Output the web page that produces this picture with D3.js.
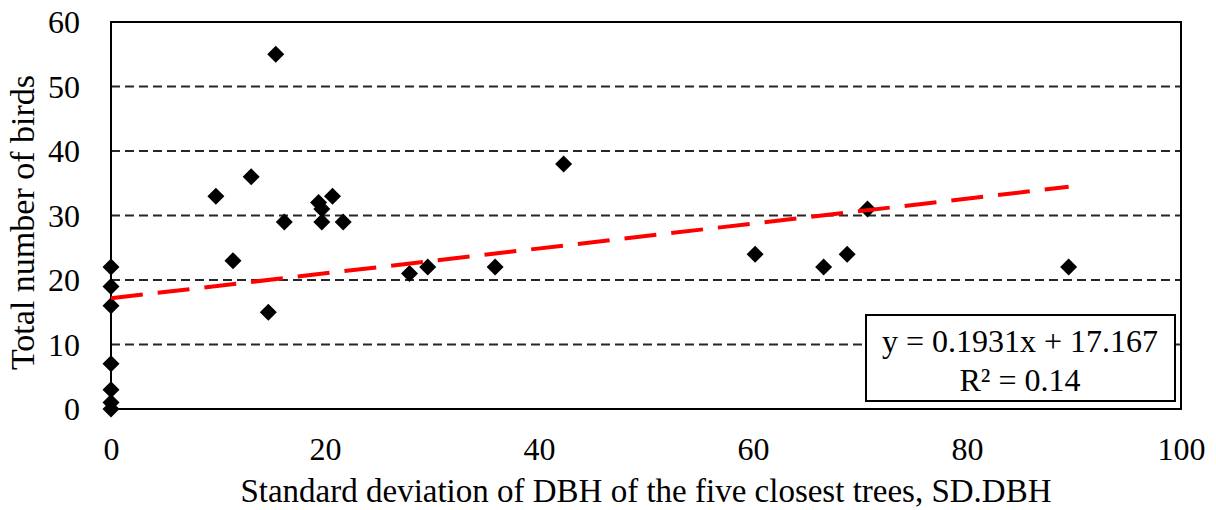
<!DOCTYPE html>
<html>
<head>
<meta charset="utf-8">
<script src="https://cdn.jsdelivr.net/npm/d3@7"></script>
<style>
  html, body { margin: 0; padding: 0; background: #fff; }
  svg { display: block; }
  text { font-family: "Liberation Serif", "Times New Roman", serif; fill: #000; }
</style>
</head>
<body>
<svg id="chart" width="1216" height="510"></svg>
<script>
// ---- data ----
const sdDBH = [0, 0, 0, 0, 0, 0, 0,
  9.8, 11.4, 13.1, 14.7, 15.4, 16.2, 19.4, 19.7, 19.7, 20.7, 21.7,
  27.9, 29.6, 35.9, 42.3, 60.2, 66.6, 68.8, 70.7, 89.5];
const birds = [22, 19, 16, 7, 3, 1, 0,
  33, 23, 36, 15, 55, 29, 32, 31, 29, 33, 29,
  21, 22, 22, 38, 24, 22, 24, 31, 22];
const xTicks = [0, 20, 40, 60, 80, 100];
const yTicks = [0, 10, 20, 30, 40, 50, 60];
const gridValues = [10, 20, 30, 40, 50];
const trendSlope = 0.1931;
const trendIntercept = 17.167;
const eqLines = ["y = 0.1931x + 17.167", "R² = 0.14"];
const xTitle = "Standard deviation of DBH of the five closest trees, SD.DBH";
const yTitle = "Total number of birds";

// ---- layout ----
const L = 111, R = 1181, T = 22, B = 409;
const svg = d3.select("#chart");
const x = d3.scaleLinear().domain([0, 100]).range([L, R]);
const y = d3.scaleLinear().domain([0, 60]).range([B, T]);

// gridlines
svg.append("g").selectAll("line").data(gridValues).join("line")
  .attr("x1", L).attr("x2", R)
  .attr("y1", d => y(d)).attr("y2", d => y(d))
  .attr("stroke", "#262626").attr("stroke-width", 2)
  .attr("stroke-dasharray", "9,5");

// frame
svg.append("rect").attr("x", L).attr("y", T)
  .attr("width", R - L).attr("height", B - T)
  .attr("fill", "none").attr("stroke", "#000").attr("stroke-width", 2);

// axes (labels only)
const xAxis = d3.axisBottom(x).tickValues(xTicks).tickSize(0).tickPadding(0).tickFormat(d3.format("d"));
const gx = svg.append("g").attr("transform", `translate(0,${B})`).call(xAxis);
gx.select(".domain").remove();
gx.selectAll("text").attr("font-size", 32).attr("dy", null).attr("y", 51)
  .style("font-family", "Liberation Serif, serif").attr("fill", "#000");

const yAxis = d3.axisLeft(y).tickValues(yTicks).tickSize(0).tickPadding(0).tickFormat(d3.format("d"));
const gy = svg.append("g").attr("transform", `translate(${L},0)`).call(yAxis);
gy.select(".domain").remove();
gy.selectAll("text").attr("font-size", 32).attr("x", -31).attr("dy", "0.33em")
  .style("font-family", "Liberation Serif, serif").attr("fill", "#000");

// points
const pts = sdDBH.map((v, i) => ({ x: v, y: birds[i] }));
const s = 8.5;
svg.append("g").selectAll("path").data(pts).join("path")
  .attr("d", `M0,${-s}L${s},0L0,${s}L${-s},0Z`)
  .attr("transform", d => `translate(${x(d.x)},${y(d.y)})`)
  .attr("fill", "#000");

// trendline
const xMax = d3.max(sdDBH);
svg.append("line")
  .attr("x1", x(0)).attr("y1", y(trendIntercept))
  .attr("x2", x(xMax)).attr("y2", y(trendIntercept + trendSlope * xMax))
  .attr("stroke", "#ff0000").attr("stroke-width", 4)
  .attr("stroke-dasharray", "32,15");

// equation box
svg.append("rect").attr("x", 866).attr("y", 315).attr("width", 309).attr("height", 86)
  .attr("fill", "#fff").attr("stroke", "#000").attr("stroke-width", 2);
svg.append("g").selectAll("text").data(eqLines).join("text")
  .attr("x", 1020).attr("y", (d, i) => 352 + i * 39)
  .attr("text-anchor", "middle").attr("font-size", 32)
  .text(d => d);

// axis titles
svg.append("text").attr("x", (L + R) / 2).attr("y", 502)
  .attr("text-anchor", "middle").attr("font-size", 33).text(xTitle);
svg.append("text").attr("transform", `translate(34,${(T + B) / 2 + 7}) rotate(-90)`)
  .attr("text-anchor", "middle").attr("font-size", 34).text(yTitle);
</script>
</body>
</html>
